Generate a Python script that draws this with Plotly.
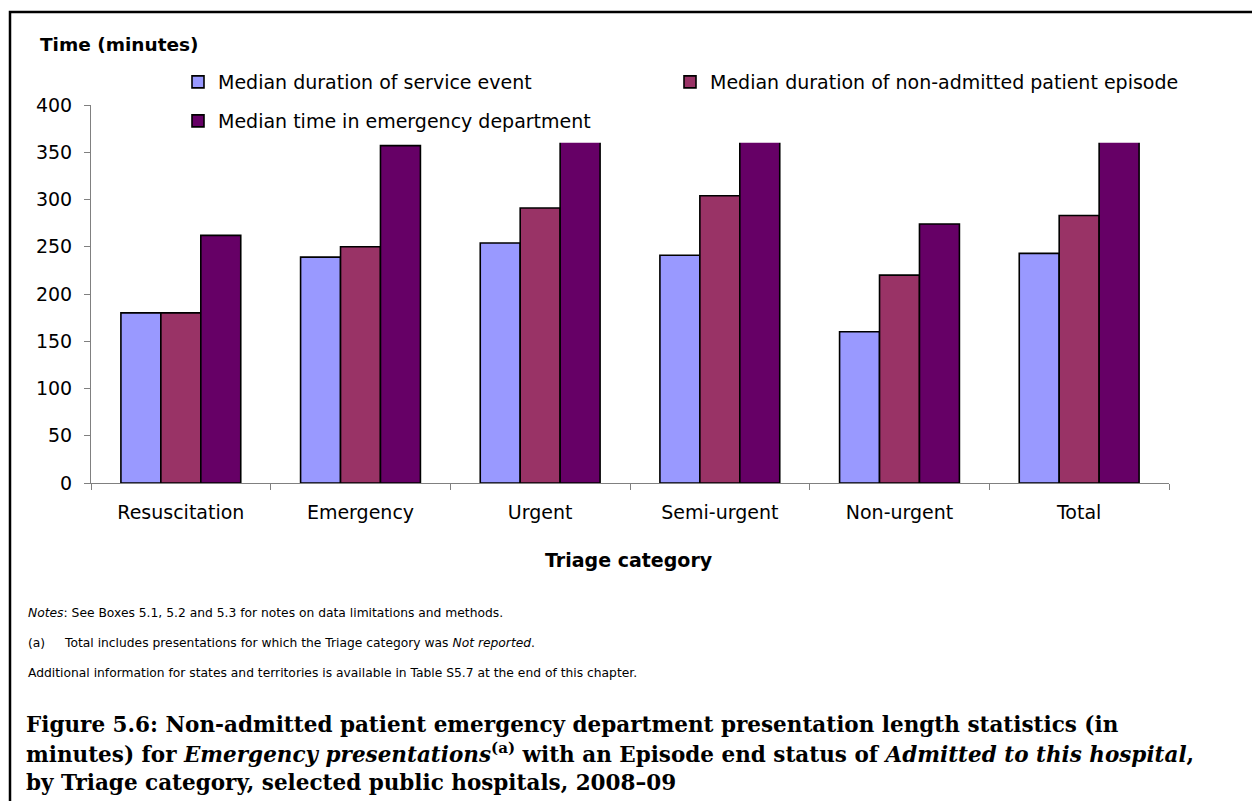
import plotly.graph_objects as go

categories = ['Resuscitation', 'Emergency', 'Urgent', 'Semi-urgent', 'Non-urgent', 'Total']
service_event = [180, 239, 254, 241, 160, 243]
non_admitted = [180, 250, 291, 304, 220, 283]
# the last three of these run behind the legend in the original, so they are guesses
time_in_ed = [262, 357, 385, 390, 274, 380]

series_names = ['Median duration of service event',
                'Median duration of non-admitted patient episode',
                'Median time in emergency department']
series_cols = ['#9999FF', '#993366', '#660066']

notes = ['<i>Notes</i>: See Boxes 5.1, 5.2 and 5.3 for notes on data limitations and methods.',
         'Total includes presentations for which the Triage category was <i>Not reported</i>.',
         'Additional information for states and territories is available in Table S5.7 at the end of this chapter.']
caption = ['Figure 5.6: Non-admitted patient emergency department presentation length statistics (in',
           'minutes) for <i>Emergency presentations</i><sup>(a)</sup> with an Episode end status of <i>Admitted to this hospital</i>,',
           'by Triage category, selected public hospitals, 2008–09']

SANS = 'DejaVu Sans'
SERIF = 'DejaVu Serif'

# plot area in pixels
L, R, T, B = 91, 1169, 105, 483
W, H = 1252, 801


def px(x):
    return (x - L) / (R - L)


def py(y):
    return (B - y) / (B - T)


fig = go.Figure()

for name, vals, col, leg in zip(series_names, [service_event, non_admitted, time_in_ed],
                                series_cols, ['legend', 'legend3', 'legend2']):
    fig.add_trace(go.Bar(x=categories, y=vals, name=name,
                         marker=dict(color=col, line=dict(color='black', width=1.6)),
                         legend=leg, showlegend=True))

# white band that hides the tallest bars behind the legend area
fig.add_shape(type='rect', xref='paper', yref='y', x0=0.003, x1=1.0, y0=360, y1=400,
              fillcolor='white', line_width=0, layer='above')

# page frame
fig.add_shape(type='path', xref='paper', yref='paper',
              path=f'M {px(10)},{py(830)} L {px(10)},{py(12)} L {px(1280)},{py(12)}',
              line=dict(color='black', width=2.5))

fig.add_annotation(x=px(38), y=py(45), xref='paper', yref='paper',
                   xanchor='left', yanchor='middle',
                   text='<b>Time (minutes)</b>', showarrow=False,
                   font=dict(family=SANS, size=18.5, color='black'))

fig.add_annotation(x=px(629), y=py(560), xref='paper', yref='paper',
                   xanchor='center', yanchor='middle',
                   text='<b>Triage category</b>', showarrow=False,
                   font=dict(family=SANS, size=19, color='black'))

note_y = [613, 643, 673]
note_font = dict(family=SANS, size=12.3, color='black')
fig.add_annotation(x=px(26), y=py(note_y[0]), xref='paper', yref='paper',
                   xanchor='left', yanchor='middle',
                   text=notes[0], showarrow=False, font=note_font)
fig.add_annotation(x=px(26), y=py(note_y[1]), xref='paper', yref='paper',
                   xanchor='left', yanchor='middle',
                   text='(a)', showarrow=False, font=note_font)
fig.add_annotation(x=px(62), y=py(note_y[1]), xref='paper', yref='paper',
                   xanchor='left', yanchor='middle',
                   text=notes[1], showarrow=False, font=note_font)
fig.add_annotation(x=px(26), y=py(note_y[2]), xref='paper', yref='paper',
                   xanchor='left', yanchor='middle',
                   text=notes[2], showarrow=False, font=note_font)

for i, line in enumerate(caption):
    fig.add_annotation(x=px(24), y=py(724 + 29 * i), xref='paper', yref='paper',
                       xanchor='left', yanchor='middle',
                       text='<b>' + line + '</b>', showarrow=False,
                       font=dict(family=SERIF, size=21.5, color='black'))

leg_font = dict(family=SANS, size=19, color='black')

fig.update_layout(
    autosize=False,
    width=W,
    height=H,
    margin=dict(l=L, r=W - R, t=T, b=H - B, autoexpand=False),
    plot_bgcolor='white',
    paper_bgcolor='white',
    barmode='group',
    bargap=0.333,
    bargroupgap=0,
    showlegend=True,
    font=dict(family=SANS, size=19, color='black'),

    legend=dict(orientation='h', x=px(178), y=py(82), xanchor='left', yanchor='middle',
                bgcolor='rgba(0,0,0,0)', font=leg_font),
    legend2=dict(orientation='h', x=px(178), y=py(121), xanchor='left', yanchor='middle',
                 bgcolor='rgba(0,0,0,0)', font=leg_font),
    legend3=dict(orientation='h', x=px(670), y=py(82), xanchor='left', yanchor='middle',
                 bgcolor='rgba(0,0,0,0)', font=leg_font),

    yaxis=dict(
        range=[0, 400],
        dtick=50,
        ticks='outside',
        ticklen=6,
        tickcolor='#808080',
        showline=True,
        linecolor='#808080',
        linewidth=1,
        showgrid=False,
        zeroline=False,
        ticklabelstandoff=8,
        tickfont=dict(family=SANS, size=19, color='black'),
    ),

    xaxis=dict(
        tickson='boundaries',
        ticks='outside',
        ticklen=6,
        tickcolor='#808080',
        showline=True,
        linecolor='#808080',
        linewidth=1,
        showgrid=False,
        ticklabelstandoff=12,
        tickfont=dict(family=SANS, size=19, color='black'),
    ),
)

fig.write_html('out.html', config={'displayModeBar': False},
               post_script="document.body.style.margin='0px';")
